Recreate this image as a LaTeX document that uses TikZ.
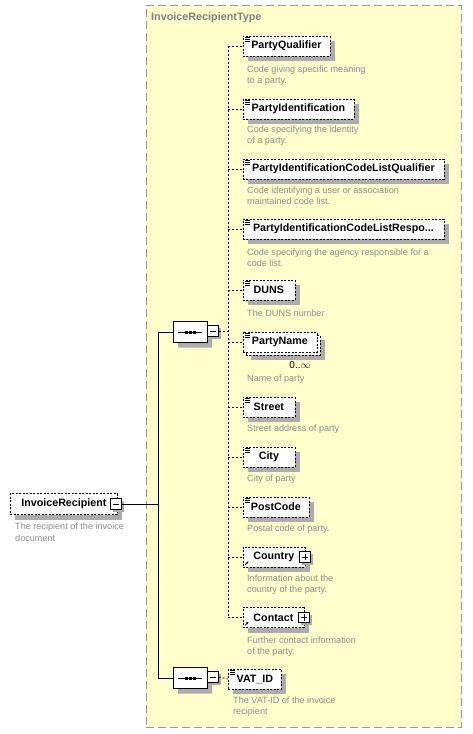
\documentclass[tikz,border=0pt]{standalone}
\usepackage{fontspec}
\setmainfont{Liberation Sans}
\usetikzlibrary{shapes.misc,arrows.meta}
\definecolor{boxyellow}{RGB}{255,255,204}
\definecolor{framegray}{RGB}{150,150,150}
\definecolor{descgray}{RGB}{140,140,140}
\definecolor{titlegray}{RGB}{128,128,128}
\definecolor{shadegray}{RGB}{172,172,172}
\tikzset{
  container/.style={draw=framegray, fill=boxyellow, dash pattern=on 8pt off 4pt, line width=0.9pt, anchor=north west, inner sep=0pt},
  titletext/.style={anchor=west, inner sep=0pt, font=\bfseries\fontsize{10.8}{12}\selectfont, text=titlegray},
  elem/.style={draw, fill=white, dash pattern=on 2pt off 1.5pt, line width=0.8pt, anchor=west, minimum height=20pt, inner xsep=3pt, inner ysep=0pt, font=\bfseries\fontsize{10.7}{12}\selectfont},
  desc/.style={anchor=north west, inner sep=0pt, align=left, font=\fontsize{9.1}{11.5}\selectfont, text=descgray},
  pmbox/.style={draw, solid, fill=white, line width=0.8pt, minimum size=10.5pt, inner sep=0pt},
  pmminus/.style={pmbox, path picture={\draw[line width=0.8pt] ([xshift=2pt]path picture bounding box.west) -- ([xshift=-2pt]path picture bounding box.east);}},
  pmplus/.style={pmbox, path picture={\draw[line width=0.8pt] ([xshift=2pt]path picture bounding box.west) -- ([xshift=-2pt]path picture bounding box.east) ([yshift=-2pt]path picture bounding box.north) -- ([yshift=2pt]path picture bounding box.south);}},
  seqshape/.style={draw, solid, fill=white, line width=0.8pt, chamfered rectangle, chamfered rectangle xsep=5pt, chamfered rectangle angle=45, minimum width=34pt, minimum height=21pt, inner sep=0pt},
  solidcon/.style={draw, line width=0.9pt},
  dashcon/.style={draw, line width=0.8pt, dash pattern=on 2pt off 2pt},
  simpleicon/.pic={\draw[line width=0.6pt] (0,0) -- (5,0) (0,1.7) -- (5,1.7) (0,3.4) -- (5,3.4);},
  reficon/.pic={\draw[line width=0.8pt, -{Stealth[length=2.5pt,width=2.5pt]}] (0,0) -- (3.5,-3.5);}
}
% shadow rectangle behind a box: x1, y1, x2, y2 (pixel coordinates of the box)
\newcommand{\boxshadow}[4]{\fill[shadegray] ({#1+5},{#2+5}) rectangle ({#3+5},{#4+5});}
% element box: name, x, ycenter, width, text
\newcommand{\elemnode}[5]{%
  \boxshadow{#2}{#3-10}{#2+#4}{#3+10}
  \node[elem, minimum width=#4pt] (#1) at (#2,#3) {#5};}
\newcommand{\pmnode}[4]{% name, style, x, y
  \fill[shadegray] ({#3-3},{#4-3}) rectangle ({#3+7.5},{#4+7.5});
  \node[#2] (#1) at (#3,#4) {};}
\newcommand{\seqnode}[3]{% name, x, y
  \node[seqshape, draw=none, fill=shadegray] at ({#2+5},{#3+5}) {};
  \node[seqshape] (#1) at (#2,#3) {};
  \draw[line width=0.8pt] ([xshift=-12pt]#1.center) -- ([xshift=12pt]#1.center);
  \foreach \dx in {-4,0,4}
    \fill ([shift={(\dx pt-1.5pt,-1.5pt)}]#1.center) rectangle ([shift={(\dx pt+1.5pt,1.5pt)}]#1.center);}
\begin{document}
\begin{tikzpicture}[x=1pt,y=-1pt]
\useasboundingbox (0,0) rectangle (472,734);

% complex type container
\node[container, minimum width=315pt, minimum height=722pt] (type) at (145.5,5) {};
\node[titletext] (title) at (151,17.5) {InvoiceRecipientType};

% root element
\boxshadow{10}{493.5}{117}{514.5}
\node[elem, minimum width=107pt, minimum height=21pt] (ir) at (10,504) {InvoiceRecipient\hspace{8pt}};
\pmnode{irm}{pmminus}{116}{504}
\node[desc] (ird) at (15,523) {The recipient of the invoice\\document};

% sequence compositors
\seqnode{seq1}{190}{332}
\pmnode{seq1m}{pmminus}{213}{331}
\seqnode{seq2}{190}{678}
\pmnode{seq2m}{pmminus}{213}{677}

% child elements
\elemnode{pq}{242.5}{46}{87}{PartyQualifier}
\elemnode{pi}{242.5}{109}{111}{PartyIdentification}
\elemnode{clq}{242.5}{169}{201}{PartyIdentificationCodeListQualifier}
\elemnode{clr}{242.5}{229}{201}{PartyIdentificationCodeListRespo...}
\elemnode{duns}{242.5}{290}{52}{DUNS}
\elemnode{pnback}{245.5}{345}{74}{}
\node[elem, minimum width=74pt] (pn) at (242.5,342) {PartyName};
\elemnode{street}{242.5}{407}{52}{Street}
\elemnode{city}{242.5}{457}{52}{City}
\elemnode{postcode}{242.5}{507}{66}{PostCode}
\elemnode{country}{242.5}{557}{62}{Country\hspace{10pt}}
\pmnode{countryp}{pmplus}{305}{557}
\elemnode{contact}{242.5}{617.5}{61}{Contact\hspace{10pt}}
\pmnode{contactp}{pmplus}{304}{617.5}
\elemnode{vat}{228}{679}{53}{VAT\_ID}

% icons
\foreach \n in {pq,pi,clq,clr,duns,pn,street,city,postcode,vat}
  \pic at ([shift={(2pt,-2pt)}]\n.north west) {simpleicon};
\foreach \n in {country,contact}
  \pic at ([shift={(2.5pt,2.5pt)}]\n.south west) {reficon};

% occurrence
\node[inner sep=0pt, font=\fontsize{10}{12}\selectfont] (occ) at (300,365) {0..\(\infty\)};

% descriptions
\node[desc] (pqd) at (247,65.5) {Code giving specific meaning\\to a party.};
\node[desc] (pid) at (247,125.5) {Code specifying the identity\\of a party.};
\node[desc] (clqd) at (247,186.5) {Code identifying a user or association\\maintained code list.};
\node[desc] (clrd) at (247,248.5) {Code specifying the agency responsible for a\\code list.};
\node[desc] (dunsd) at (247,309.5) {The DUNS number};
\node[desc] (pnd) at (247,374.5) {Name of party};
\node[desc] (streetd) at (247,424.5) {Street address of party};
\node[desc] (cityd) at (247,474.5) {City of party};
\node[desc] (postcoded) at (247,524.5) {Postal code of party.};
\node[desc] (countryd) at (247,574.5) {Information about the\\country of the party.};
\node[desc] (contactd) at (247,636.5) {Further contact information\\of the party.};
\node[desc] (vatd) at (233,696.5) {The VAT-ID of the invoice\\recipient};

% solid connectors
\coordinate (trunk) at (158,504);
\coordinate (t1) at (158,332);
\coordinate (t2) at (158,678);
\draw[solidcon] (irm.east) -- (trunk);
\draw[solidcon] (t1) -- (t2);
\draw[solidcon] (t1) -- (seq1.west);
\draw[solidcon] (t2) -- (seq2.west);

% dashed connectors
\coordinate (bus) at (228,331);
\draw[dashcon] (seq1m.east) -- (bus);
\draw[dashcon] (bus|-pq.west) -- (bus|-contact.west);
\foreach \n in {pq,pi,clq,clr,duns,pn,street,city,postcode,country,contact}
  \draw[dashcon] (bus|-\n.west) -- (\n.west);
\draw[dashcon] (seq2m.east) -- (vat.west);
\end{tikzpicture}
\end{document}
